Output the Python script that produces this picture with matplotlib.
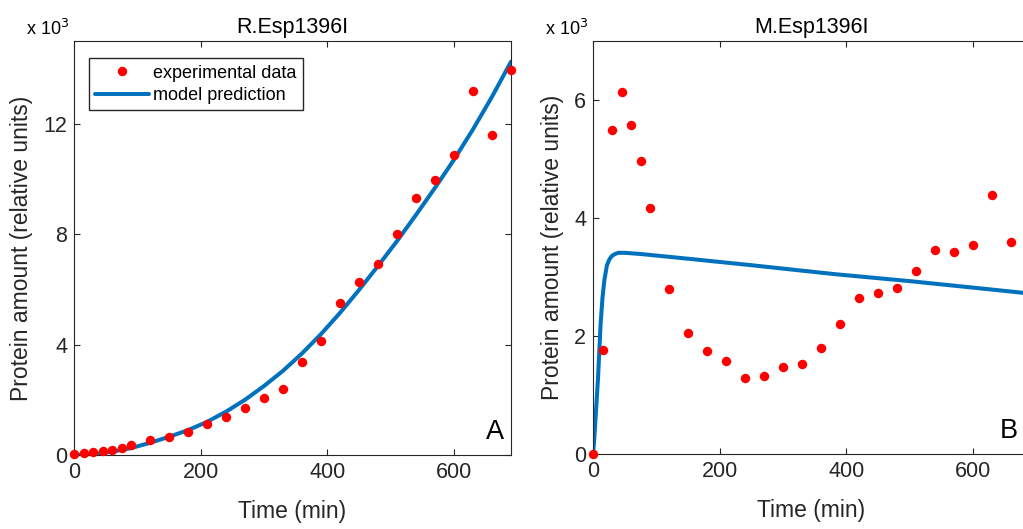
import matplotlib.pyplot as plt
import numpy as np

plt.rcParams["font.family"] = ["Liberation Sans", "DejaVu Sans"]

# experimental sampling times (min)
time_exp = [0, 15, 30, 45, 60, 75, 90, 120, 150, 180, 210, 240, 270, 300,
            330, 360, 390, 420, 450, 480, 510, 540, 570, 600, 630, 660, 690]

# R.Esp1396I (x 10^3)
r_exp = [0.05, 0.08, 0.12, 0.15, 0.18, 0.26, 0.38, 0.56, 0.66, 0.84, 1.14,
         1.38, 1.69, 2.07, 2.38, 3.36, 4.14, 5.50, 6.28, 6.92, 8.02, 9.31,
         9.96, 10.87, 13.2, 11.59, 13.96]
r_model_t = [0, 30, 60, 90, 120, 150, 180, 210, 240, 270, 300, 330, 360, 390,
             420, 450, 480, 510, 540, 570, 600, 630, 660, 690]
r_model = [0.0, 0.03, 0.12, 0.25, 0.44, 0.66, 0.9, 1.2, 1.57, 2.0, 2.5, 3.05,
           3.68, 4.38, 5.15, 5.98, 6.85, 7.75, 8.7, 9.68, 10.7, 11.8, 12.98,
           14.25]

# M.Esp1396I (x 10^3)
m_exp = [0.0, 1.77, 5.50, 6.14, 5.57, 4.97, 4.17, 2.79, 2.05, 1.74, 1.57,
         1.28, 1.32, 1.48, 1.53, 1.80, 2.20, 2.65, 2.73, 2.81, 3.11, 3.45,
         3.42, 3.54, 4.39, 3.59, 3.5]
m_model_t = [0, 2, 4, 6, 8, 10, 12, 15, 18, 22, 26, 30, 35, 40, 50, 75, 150,
             250, 380, 500, 600, 690]
m_model = [0.0, 0.25, 0.6, 0.95, 1.3, 1.75, 2.2, 2.65, 2.95, 3.2, 3.3, 3.36,
           3.39, 3.41, 3.41, 3.39, 3.31, 3.2, 3.05, 2.93, 2.82, 2.72]

blue = "#0072BD"
dark = "#262626"

fig = plt.figure(figsize=(10.23, 5.29), dpi=100)
ax1 = fig.add_axes([74 / 1023, 74 / 529, 437 / 1023, 414 / 529])
ax2 = fig.add_axes([593 / 1023, 75 / 529, 437 / 1023, 413 / 529])

panels = [
    (ax1, r_exp, r_model_t, r_model, "R.Esp1396I", "A", 0.985, 15,
     [0, 4, 8, 12]),
    (ax2, m_exp, m_model_t, m_model, "M.Esp1396I", "B", 0.972, 7,
     [0, 2, 4, 6]),
]

for ax, exp, mt, mv, title, letter, lx, ytop, yt in panels:
    ax.plot(time_exp, exp, "o", color="red", markersize=6.8,
            markeredgewidth=0, label="experimental data", clip_on=False,
            zorder=3)
    ax.plot(mt, mv, "-", color=blue, linewidth=2.9, label="model prediction",
            solid_capstyle="round", solid_joinstyle="round", zorder=2)
    ax.set_xlim(0, 690)
    ax.set_ylim(0, ytop)
    ax.set_xticks([0, 200, 400, 600])
    ax.set_yticks(yt)
    ax.tick_params(direction="in", top=True, right=True, length=4,
                   labelsize=15.5, colors=dark, pad=5)
    for s in ax.spines.values():
        s.set_color(dark)
        s.set_linewidth(0.8)
    ax.set_title(title, fontsize=15.5, color="black", pad=6)
    ax.set_xlabel("Time (min)", fontsize=16.5, color=dark, labelpad=12)
    ax.set_ylabel("Protein amount (relative units)", fontsize=16.5,
                  color=dark, labelpad=7)
    ax.text(lx, 0.025, letter, transform=ax.transAxes, fontsize=19.5,
            ha="right", va="bottom", color="black")
    ax.text(-0.11, 1.005, r"x 10$^3$", transform=ax.transAxes, fontsize=13,
            ha="left", va="bottom", color="black")

ax1.legend(loc="upper left", bbox_to_anchor=(0.034, 0.958), fontsize=13,
           frameon=True, fancybox=False, edgecolor=dark, framealpha=1,
           borderpad=0.35, handlelength=3.0, handletextpad=0.2,
           labelspacing=0.3, borderaxespad=0)

fig.savefig("out.png", dpi=100)
